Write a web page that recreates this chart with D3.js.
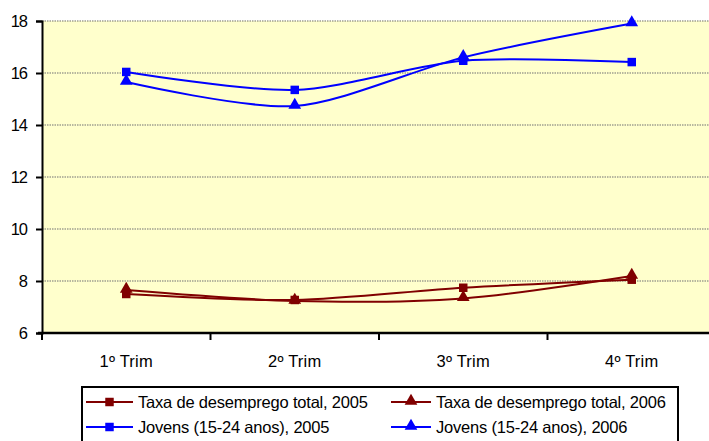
<!DOCTYPE html>
<html>
<head>
<meta charset="utf-8">
<script src="https://cdn.jsdelivr.net/npm/d3@7"></script>
<style>
  html, body { margin: 0; padding: 0; background: #fff; }
  svg { display: block; font-family: "Liberation Sans", Arial, sans-serif; }
</style>
</head>
<body>
<svg id="chart" width="709" height="441"></svg>
<script>
// Quarterly unemployment rates (%)
const quarters = ["1º Trim", "2º Trim", "3º Trim", "4º Trim"];
const taxa2005 = [7.5, 7.27, 7.74, 8.05];
const taxa2006 = [7.65, 7.23, 7.33, 8.19];
const jovens2005 = [16.04, 15.35, 16.47, 16.42];
const jovens2006 = [15.65, 14.73, 16.6, 17.9];
const yTicks = [6, 8, 10, 12, 14, 16, 18];

const series = [
  { name: "Taxa de desemprego total, 2005", values: taxa2005, color: "#800000", marker: "square" },
  { name: "Taxa de desemprego total, 2006", values: taxa2006, color: "#800000", marker: "triangle" },
  { name: "Jovens (15-24 anos), 2005", values: jovens2005, color: "#0000FF", marker: "square" },
  { name: "Jovens (15-24 anos), 2006", values: jovens2006, color: "#0000FF", marker: "triangle" }
];

const svg = d3.select("#chart");
const plot = { left: 42, right: 716, top: 21, bottom: 333 };

const x = d3.scaleBand().domain(quarters).range([plot.left, plot.right]);
const y = d3.scaleLinear().domain([6, 18]).range([plot.bottom, plot.top]);

// plot background
svg.append("rect")
  .attr("x", plot.left).attr("y", plot.top)
  .attr("width", plot.right - plot.left).attr("height", plot.bottom - plot.top)
  .attr("fill", "#FFFFCC");

// horizontal gridlines
svg.append("g").selectAll("line")
  .data(yTicks.filter(d => d > 6))
  .join("line")
  .attr("x1", plot.left).attr("x2", plot.right)
  .attr("y1", d => y(d)).attr("y2", d => y(d))
  .attr("stroke", "#a0a090").attr("stroke-width", 1.5)
  .attr("stroke-dasharray", "1.5,1");

// y axis
const yAxis = svg.append("g")
  .attr("transform", `translate(${plot.left},0)`)
  .call(d3.axisLeft(y).tickValues(yTicks).tickSize(6).tickPadding(9).tickFormat(d3.format("d")));
yAxis.select(".domain").attr("stroke", "#000").attr("stroke-width", 2);
yAxis.selectAll(".tick line").attr("stroke", "#000").attr("stroke-width", 2);
yAxis.selectAll(".tick text").attr("font-size", 16.5).attr("fill", "#000")
  .attr("font-family", "'Liberation Sans', Arial, sans-serif").attr("letter-spacing", "-1");

// x axis with ticks on category boundaries
const xg = svg.append("g").attr("transform", `translate(0,${plot.bottom})`);
xg.append("line").attr("x1", plot.left - 4).attr("x2", plot.right)
  .attr("stroke", "#000").attr("stroke-width", 2.5);
xg.selectAll("line.tk")
  .data(quarters.map(q => x(q)).concat([plot.right]))
  .join("line").attr("class", "tk")
  .attr("x1", d => d).attr("x2", d => d).attr("y1", 0).attr("y2", 7)
  .attr("stroke", "#000").attr("stroke-width", 2);
xg.selectAll("text")
  .data(quarters)
  .join("text")
  .attr("x", d => x(d) + x.bandwidth() / 2)
  .attr("y", 34)
  .attr("text-anchor", "middle")
  .attr("font-size", 16.5)
  .attr("letter-spacing", "0.2")
  .text(d => d);

// smoothed series lines
const line = d3.line()
  .x((d, i) => x(quarters[i]) + x.bandwidth() / 2)
  .y(d => y(d))
  .curve(d3.curveCardinal.tension(0.15));

const symSquare = d3.symbol().type(d3.symbolSquare).size(72);
const symTri = d3.symbol().type(d3.symbolTriangle).size(70);

function drawMarker(g, kind, color) {
  g.append("path")
    .attr("d", kind === "square" ? symSquare() : symTri())
    .attr("transform", kind === "triangle" ? "translate(0,-1)" : null)
    .attr("fill", color);
}

series.forEach(s => {
  const g = svg.append("g");
  g.append("path")
    .attr("d", line(s.values))
    .attr("fill", "none")
    .attr("stroke", s.color)
    .attr("stroke-width", 2);
  s.values.forEach((v, i) => {
    const m = g.append("g")
      .attr("transform", `translate(${x(quarters[i]) + x.bandwidth() / 2},${y(v)})`);
    drawMarker(m, s.marker, s.color);
  });
});

// legend
const legend = svg.append("g");
legend.append("rect")
  .attr("x", 82).attr("y", 387).attr("width", 596).attr("height", 60)
  .attr("fill", "#fff").attr("stroke", "#000").attr("stroke-width", 2);

const legendPos = [
  { lx: 86, ly: 402 }, { lx: 391, ly: 402 },
  { lx: 86, ly: 427 }, { lx: 391, ly: 427 }
];
const legendLen = [47, 40, 47, 40];
series.forEach((s, i) => {
  const p = legendPos[i];
  const len = legendLen[i];
  const item = legend.append("g");
  item.append("line")
    .attr("x1", p.lx).attr("x2", p.lx + len)
    .attr("y1", p.ly).attr("y2", p.ly)
    .attr("stroke", s.color).attr("stroke-width", 2);
  const m = item.append("g").attr("transform", `translate(${p.lx + len / 2},${p.ly})`);
  drawMarker(m, s.marker, s.color);
  item.append("text")
    .attr("x", p.lx + len + 5)
    .attr("y", p.ly + 6)
    .attr("font-size", 16.5)
    .attr("letter-spacing", "-0.2")
    .text(s.name);
});
</script>
</body>
</html>
